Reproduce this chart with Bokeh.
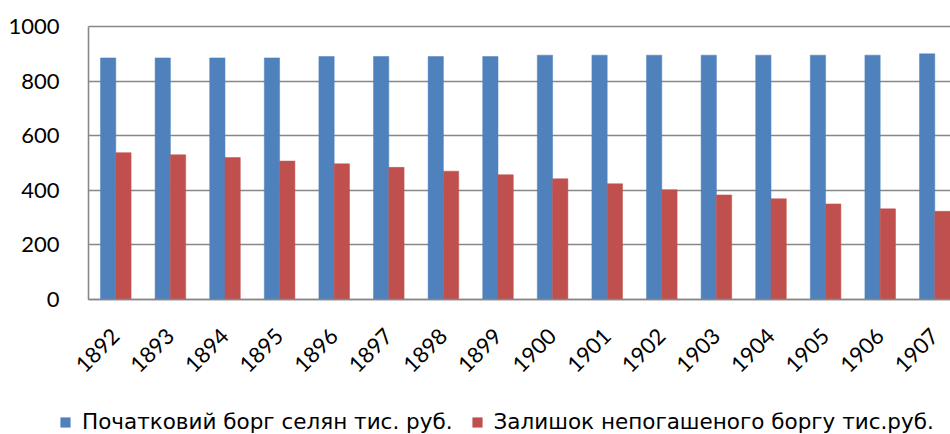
import numpy as np
from bokeh.plotting import figure
from bokeh.models import Range1d, FixedTicker, Legend, LegendItem, ColumnDataSource
from bokeh.transform import dodge
from bokeh.embed import file_html
from bokeh.resources import INLINE

years = ["1892", "1893", "1894", "1895", "1896", "1897", "1898", "1899",
         "1900", "1901", "1902", "1903", "1904", "1905", "1906", "1907"]
initial_debt = [885, 885, 885, 885, 890, 890, 890, 890,
                895, 895, 895, 895, 895, 895, 895, 900]
remaining_debt = [538, 530, 520, 507, 497, 484, 470, 457,
                  442, 424, 402, 383, 369, 350, 332, 323]
y_ticks = [0, 200, 400, 600, 800, 1000]
series_names = ["Початковий борг селян тис. руб.", "Залишок непогашеного боргу тис.руб."]

FONT = "Lato"
LEGEND_FONT = "DejaVu Sans"
BLUE = "#4F81BD"
RED = "#C0504D"
GRID = "#878787"

# layout (pixels): full-window frame, plot area drawn via fixed-location axes
W, H = 950, 434
LEFT_PX, TOP_PX, BOTTOM_PX = 88, 26, 299      # plot area edges
CAT_PX = 54.6                                  # width of one category
Y_MAX = 1000
PX_PER_UNIT = (BOTTOM_PX - TOP_PX) / Y_MAX
x_start = -LEFT_PX / CAT_PX
x_end = (W - LEFT_PX) / CAT_PX
y_end = Y_MAX + TOP_PX / PX_PER_UNIT
y_start = -(H - BOTTOM_PX) / PX_PER_UNIT

pos = np.arange(len(years)) + 0.5
src = ColumnDataSource(dict(pos=pos, initial=initial_debt, remaining=remaining_debt))

p = figure(width=W, height=H, x_range=Range1d(x_start, x_end), y_range=Range1d(y_start, y_end),
           output_backend="svg", toolbar_location=None,
           min_border_left=0, min_border_right=0, min_border_top=0, min_border_bottom=0)
p.outline_line_color = None
p.background_fill_color = "white"
p.border_fill_color = "white"

r1 = p.vbar(x=dodge("pos", -0.14, range=p.x_range), top="initial", width=0.28, source=src,
            fill_color=BLUE, line_color=BLUE, line_width=0.5)
r2 = p.vbar(x=dodge("pos", 0.14, range=p.x_range), top="remaining", width=0.28, source=src,
            fill_color=RED, line_color=RED, line_width=0.5)

p.xgrid.visible = False
yg = p.ygrid[0]
if "cross_bounds" in yg.properties():
    yg.ticker = FixedTicker(ticks=y_ticks)
    yg.cross_bounds = (0, x_end)
    yg.grid_line_color = GRID
    yg.grid_line_width = 1.6
else:
    yg.visible = False
    p.segment(x0=0, x1=x_end, y0=y_ticks, y1=y_ticks, line_color=GRID, line_width=1.6,
              level="underlay")

ya = p.yaxis[0]
ya.ticker = FixedTicker(ticks=y_ticks)
ya.fixed_location = 0
ya.bounds = (0, Y_MAX)
ya.axis_line_color = GRID
ya.axis_line_width = 1.6
ya.major_tick_line_color = None
ya.minor_tick_line_color = None
ya.major_label_text_font = FONT
ya.major_label_text_font_size = "22px"
ya.major_label_text_color = "black"
ya.major_label_standoff = 23

xa = p.xaxis[0]
xa.ticker = FixedTicker(ticks=list(pos))
xa.major_label_overrides = {float(x): y for x, y in zip(pos, years)}
xa.fixed_location = 0
xa.bounds = (0, x_end)
xa.axis_line_color = GRID
xa.axis_line_width = 1.6
xa.major_tick_line_color = None
xa.minor_tick_line_color = None
xa.major_label_text_font = FONT
xa.major_label_text_font_size = "22px"
xa.major_label_text_color = "black"
xa.major_label_orientation = np.pi / 4
xa.major_label_standoff = 27

legend = Legend(items=[LegendItem(label=series_names[0], renderers=[r1]),
                       LegendItem(label=series_names[1], renderers=[r2])],
                orientation="horizontal", location=(59, 0),
                border_line_color=None, background_fill_alpha=0,
                padding=0, margin=0, spacing=18,
                glyph_width=12, glyph_height=12, label_standoff=11,
                label_text_font=LEGEND_FONT, label_text_font_size="21.5px",
                label_text_color="black", label_height=20)
p.add_layout(legend, "center")

open("out.html", "w").write(file_html(p, INLINE))
